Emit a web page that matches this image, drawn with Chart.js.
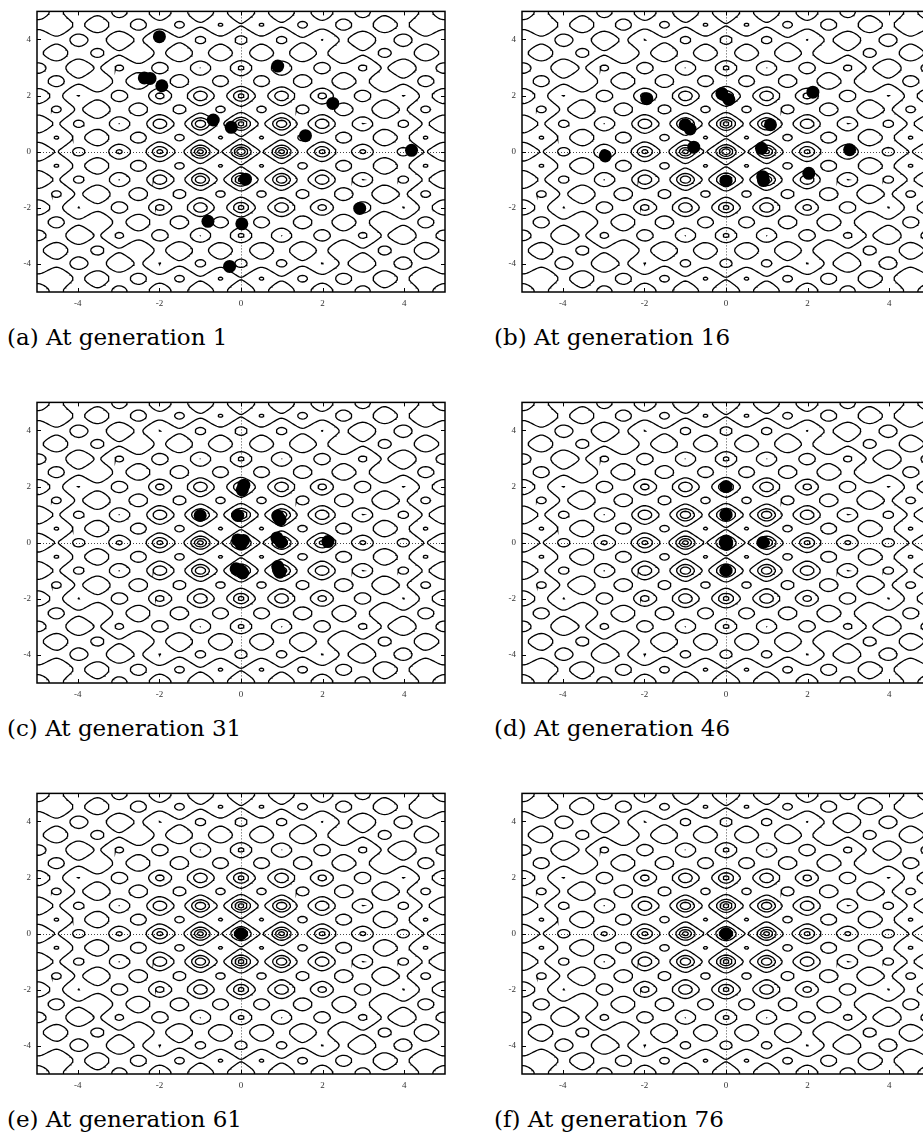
<!DOCTYPE html>
<html><head><meta charset="utf-8">
<script src="https://cdn.jsdelivr.net/npm/chart.js@4"></script>
<style>
html,body{margin:0;padding:0;background:#fff;width:923px;height:1137px;overflow:hidden;position:relative}
canvas{position:absolute}
.cap{position:absolute;font-family:"DejaVu Serif",serif;font-size:23px;color:#000;white-space:nowrap;line-height:1}
</style></head>
<body>
<script>
// ---------- data ----------
const panelLabels = ["(a) At generation 1","(b) At generation 16","(c) At generation 31","(d) At generation 46","(e) At generation 61","(f) At generation 76"];
const xTicks = [-4,-2,0,2,4];
const yTicks = [-4,-2,0,2,4];
const contourLevels = [2,5,10,20,40,60];   // Rastrigin iso-levels drawn in the background

const gen1X  = [-2.0,-2.37,-2.23,-1.94,0.90,2.25,-0.68,-0.24,1.58,4.18,0.11,2.91,-0.81,0.02,-0.28];
const gen1Y  = [4.1,2.63,2.61,2.35,3.05,1.72,1.13,0.87,0.57,0.05,-0.98,-2.02,-2.48,-2.57,-4.09];
const gen16X = [-1.94,-0.10,0.07,2.13,-1.0,-0.88,1.09,-0.79,0.87,3.03,-2.96,2.03,0.0,0.90,0.92];
const gen16Y = [1.89,2.07,1.86,2.12,0.96,0.81,0.96,0.16,0.12,0.07,-0.15,-0.77,-1.04,-0.89,-1.03];
const gen31X = [0.07,0.03,-1.0,-0.08,0.90,0.96,-0.08,0.06,0.0,0.88,0.98,2.13,-0.12,0.04,0.0,0.90,0.95];
const gen31Y = [2.05,1.88,0.97,0.97,0.95,0.82,0.10,0.08,-0.05,0.17,0.02,0.04,-0.93,-1.08,-1.0,-0.85,-1.05];
const gen46X = [0.0,0.0,0.0,0.01,0.91,0.0];
const gen46Y = [2.0,1.0,0.06,-0.06,0.01,-0.99];
const gen61X = [0.0];
const gen61Y = [0.0];
const gen76X = [0.0];
const gen76Y = [0.0];
const popX = [gen1X,gen16X,gen31X,gen46X,gen61X,gen76X];
const popY = [gen1Y,gen16Y,gen31Y,gen46Y,gen61Y,gen76Y];

// ---------- contour of the Rastrigin landscape (marching squares) ----------
const N = 401, H = 10/(N-1);
const gx = i => -5 + i*H;
function rastrigin(x,y){return 20 + x*x - 10*Math.cos(2*Math.PI*x) + y*y - 10*Math.cos(2*Math.PI*y);}
const grid = new Float64Array(N*N);
for (let j=0;j<N;j++) for (let i=0;i<N;i++) grid[j*N+i] = rastrigin(gx(i), gx(j));

function contourChains(L){
  const adj = new Map(), pos = new Map();
  const hKey=(i,j)=>(j*N+i)*2, vKey=(i,j)=>(j*N+i)*2+1;
  function pt(key,i,j,horiz){
    if(!pos.has(key)){
      let x,y;
      if(horiz){const a=grid[j*N+i],b=grid[j*N+i+1];const t=(L-a)/(b-a);x=gx(i)+t*H;y=gx(j);}
      else {const a=grid[j*N+i],b=grid[(j+1)*N+i];const t=(L-a)/(b-a);x=gx(i);y=gx(j)+t*H;}
      pos.set(key,{x,y});
    }
    return key;
  }
  function link(p,q){
    if(!adj.has(p)) adj.set(p,[]); if(!adj.has(q)) adj.set(q,[]);
    adj.get(p).push(q); adj.get(q).push(p);
  }
  for (let j=0;j<N-1;j++) for (let i=0;i<N-1;i++){
    const a=grid[j*N+i], b=grid[j*N+i+1], c=grid[(j+1)*N+i+1], d=grid[(j+1)*N+i];
    const A=a>L,B=b>L,C=c>L,D=d>L;
    const bottom = A!==B ? pt(hKey(i,j),i,j,true) : -1;
    const right  = B!==C ? pt(vKey(i+1,j),i+1,j,false) : -1;
    const top    = D!==C ? pt(hKey(i,j+1),i,j+1,true) : -1;
    const left   = A!==D ? pt(vKey(i,j),i,j,false) : -1;
    const e=[bottom,right,top,left].filter(k=>k>=0);
    if(e.length===2) link(e[0],e[1]);
    else if(e.length===4){
      const center=(a+b+c+d)/4>L;
      if(A===center){link(bottom,right);link(top,left);}
      else {link(left,bottom);link(right,top);}
    }
  }
  const out=[];
  const walk=(start)=>{
    const pts=[start]; let cur=start;
    while(true){
      const nb=adj.get(cur); if(!nb||nb.length===0) break;
      const nx=nb.pop(); const back=adj.get(nx); const k=back.indexOf(cur); if(k>=0) back.splice(k,1);
      pts.push(nx); cur=nx;
    }
    return pts.map(k=>pos.get(k));
  };
  for (const [k,nb] of adj) if(nb.length===1) out.push(walk(k));
  for (const [k,nb] of adj) while(nb.length>0) out.push(walk(k));
  return out;
}
const contourPts = [];
contourLevels.forEach(L=>{
  contourChains(L).forEach(ch=>{
    for(let k=0;k<ch.length;k++){ if(k%2===0||k===ch.length-1) contourPts.push(ch[k]); }
    contourPts.push({x:NaN,y:NaN});
  });
});

// ---------- layout ----------
const plotLefts=[37,522], plotTops=[6,397,788], PW=408, PH=286, YW=37, XH=30, PADT=6, PADR=8;
const capLefts=[7,494];

const framePlugin={
  id:'frame',
  beforeDatasetsDraw(chart){
    const {ctx,chartArea:a,scales:{x,y}}=chart;
    ctx.save(); ctx.strokeStyle='#444'; ctx.lineWidth=1; ctx.setLineDash([1,2]);
    const x0=Math.round(x.getPixelForValue(0))+0.5, y0=Math.round(y.getPixelForValue(0))+0.5;
    ctx.beginPath(); ctx.moveTo(a.left,y0); ctx.lineTo(a.right,y0); ctx.moveTo(x0,a.top); ctx.lineTo(x0,a.bottom); ctx.stroke();
    ctx.restore();
  },
  afterDatasetsDraw(chart){
    const {ctx,chartArea:a,scales:{x,y}}=chart;
    ctx.save(); ctx.strokeStyle='#000'; ctx.lineWidth=1;
    ctx.beginPath();
    xTicks.forEach(v=>{const p=Math.round(x.getPixelForValue(v))+0.5; ctx.moveTo(p,a.bottom); ctx.lineTo(p,a.bottom-4); ctx.moveTo(p,a.top); ctx.lineTo(p,a.top+4);});
    yTicks.forEach(v=>{const p=Math.round(y.getPixelForValue(v))+0.5; ctx.moveTo(a.left,p); ctx.lineTo(a.left+4,p); ctx.moveTo(a.right,p); ctx.lineTo(a.right-4,p);});
    ctx.stroke();
    ctx.lineWidth=1.5; ctx.strokeRect(a.left,a.top,a.right-a.left,a.bottom-a.top);
    ctx.restore();
  }
};

for(let p=0;p<6;p++){
  const col=p%2, row=Math.floor(p/2);
  const cv=document.createElement('canvas');
  const W=YW+PW+PADR, Hh=PADT+PH+XH;
  cv.width=W; cv.height=Hh;
  cv.style.left=(plotLefts[col]-YW)+'px'; cv.style.top=(plotTops[row]-PADT)+'px';
  cv.style.width=W+'px'; cv.style.height=Hh+'px';
  document.body.appendChild(cv);

  const cap=document.createElement('div'); cap.className='cap'; cap.textContent=panelLabels[p];
  cap.style.left=capLefts[col]+'px'; cap.style.top=(plotTops[row]+PH+53-19.5)+'px';
  document.body.appendChild(cap);

  const pts=popX[p].map((v,k)=>({x:v,y:popY[p][k]}));
  const tickFont={family:'"Liberation Serif", serif', size:9};
  new Chart(cv,{
    type:'scatter',
    data:{datasets:[
      {data:pts, pointRadius:6.5, pointBackgroundColor:'#000', pointBorderWidth:0, showLine:false, order:0},
      {data:contourPts.map(q=>({x:q.x,y:q.y})), showLine:true, borderColor:'#000', borderWidth:1.3, pointRadius:0, spanGaps:false, order:1}
    ]},
    options:{
      responsive:false, animation:false, events:[], devicePixelRatio:1, parsing:false, normalized:true,
      layout:{padding:{top:PADT,right:PADR,left:0,bottom:0}},
      plugins:{legend:{display:false},tooltip:{enabled:false}},
      scales:{
        x:{type:'linear',min:-5,max:5,
           afterBuildTicks:s=>{s.ticks=xTicks.map(v=>({value:v}));},
           afterFit:s=>{s.height=XH;},
           grid:{display:false,drawTicks:false}, border:{display:false},
           ticks:{padding:6,font:tickFont,color:'#333',maxRotation:0,autoSkip:false}},
        y:{type:'linear',min:-5,max:5,
           afterBuildTicks:s=>{s.ticks=yTicks.map(v=>({value:v}));},
           afterFit:s=>{s.width=YW;},
           grid:{display:false,drawTicks:false}, border:{display:false},
           ticks:{padding:6,font:tickFont,color:'#333',autoSkip:false}}
      }
    },
    plugins:[framePlugin]
  });
}
</script>
</body></html>
